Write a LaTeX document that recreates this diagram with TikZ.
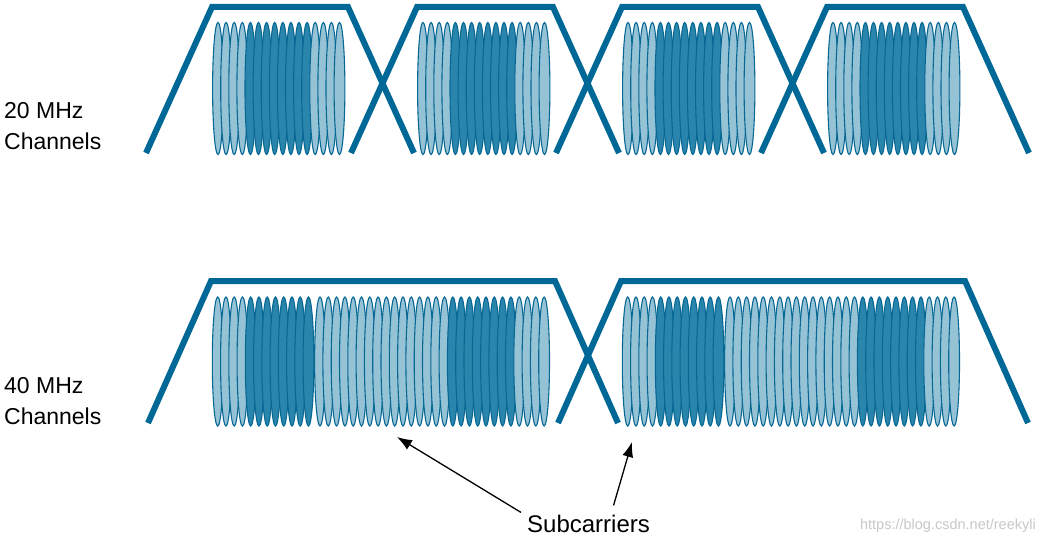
\documentclass[tikz,border=0pt]{standalone}
\usepackage{fontspec}
\setmainfont{Liberation Sans}
\usetikzlibrary{arrows.meta}
\definecolor{chan}{RGB}{0,104,150}
\definecolor{sclight}{RGB}{150,194,214}
\definecolor{scdark}{RGB}{42,133,172}
\definecolor{scline}{RGB}{8,104,148}
\definecolor{wm}{RGB}{200,200,200}
\begin{document}
\begin{tikzpicture}[x=1pt,y=-1pt,
  chanline/.style={draw=chan,line width=6pt,line join=miter},
  subc/.style={draw=scline,line width=1.1pt},
  lbl/.style={inner sep=0pt,font=\fontsize{23}{27}\selectfont},
  arr/.style={draw=black,line width=1.3pt,-{Latex[length=15pt,width=11pt]}}]
\useasboundingbox (0,0) rectangle (1041,543);
\fill[white] (0,0) rectangle (1041,543);
% 20 MHz subcarriers
\foreach \c in {280,485,690,895}{
  \foreach \i in {0,...,15}{
    \ifnum\i<4 \def\fc{sclight}\else\ifnum\i>11 \def\fc{sclight}\else\def\fc{scdark}\fi\fi
    \path[subc,fill=\fc] ({\c-62+\i*8.1},88.5) ellipse [x radius=5.4pt, y radius=66pt];
  }
}
% 40 MHz subcarriers
\foreach \c in {383,793}{
  \foreach \i in {0,...,11}{
    \ifnum\i<4 \def\fc{sclight}\else\def\fc{scdark}\fi
    \path[subc,fill=\fc] ({\c-165.3+\i*8.25},361.5) ellipse [x radius=5.4pt, y radius=64.5pt];
  }
  \foreach \i in {0,...,27}{
    \ifnum\i<16 \def\fc{sclight}\else\ifnum\i>23 \def\fc{sclight}\else\def\fc{scdark}\fi\fi
    \path[subc,fill=\fc] ({\c-63+\i*8.3},361.5) ellipse [x radius=5.4pt, y radius=64.5pt];
  }
}
% channel masks
\foreach \c in {280,485,690,895}{
  \draw[chanline] ({\c-134},153) -- ({\c-68},7) -- ({\c+68},7) -- ({\c+134},153);
}
\foreach \c in {383,793}{
  \draw[chanline] ({\c-235},423) -- ({\c-172},281) -- ({\c+172},281) -- ({\c+235},423);
}
% labels
\node[lbl,anchor=base west] (l20a) at (4,118) {20 MHz};
\node[lbl,anchor=base west] (l20b) at (4,149) {Channels};
\node[lbl,anchor=base west] (l40a) at (4,393) {40 MHz};
\node[lbl,anchor=base west] (l40b) at (4,424) {Channels};
\node[lbl,anchor=base west,inner sep=2pt,font=\fontsize{24}{28}\selectfont] (sub) at (525,532) {Subcarriers};
\node[anchor=base east,inner sep=0pt,text=wm,font=\fontsize{14.5}{17}\selectfont] (wmark) at (1036,529) {https://blog.csdn.net/reekyli};
% arrows
\coordinate (h1) at (397,437);
\coordinate (h2) at (632,442);
\draw[arr] ([xshift=-4pt]sub.north west) -- (h1);
\draw[arr] ([xshift=25pt,yshift=7pt]sub.north) -- (h2);
\end{tikzpicture}
\end{document}
